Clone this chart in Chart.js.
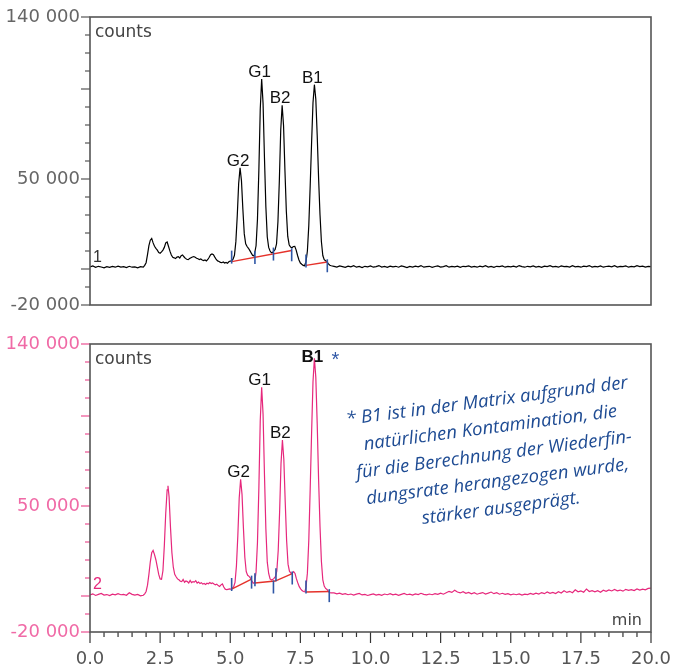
<!DOCTYPE html>
<html>
<head>
<meta charset="utf-8">
<script src="https://cdn.jsdelivr.net/npm/chart.js@4.4.1/dist/chart.umd.min.js"></script>
<style>
  body { margin: 0; background: #fff; }
  .box { position: absolute; left: 0; width: 674px; }
  #topBox { top: 0; height: 330px; }
  #bottomBox { top: 330px; height: 336px; }
</style>
</head>
<body>
<div class="box" id="topBox"><canvas id="top" width="674" height="330"></canvas></div>
<div class="box" id="bottomBox"><canvas id="bottom" width="674" height="336"></canvas></div>
<script>
const TIME_MIN = 0;
const TIME_MAX = 20;
const COUNTS_MIN = -20000;
const COUNTS_MAX = 140000;
const Y_TICK_LABELS = [-20000, 50000, 140000];
const Y_MAJOR_TICKS = [-20000, 0, 50000, 100000, 140000];

// trace 1: standard (black), [min, counts]
const TRACE_1 = [
  [0,1200],[0.1,1700],[0.2,900],[0.3,1500],[0.4,1100],[0.5,600],[0.6,1300],[0.7,900],[0.8,1400],[0.9,1000],
  [1.0,1600],[1.1,1100],[1.2,1300],[1.3,800],[1.4,1500],[1.5,1000],[1.6,1200],[1.7,700],[1.8,1300],[1.9,1000],
  [1.95,2000],[2.0,3500],[2.05,8000],[2.1,13000],[2.15,16000],[2.2,17000],[2.25,14500],[2.3,12600],[2.35,11500],
  [2.4,10500],[2.45,9200],[2.5,8800],[2.55,9500],[2.6,10500],[2.65,12000],[2.7,14500],[2.75,15000],[2.8,12500],
  [2.85,9900],[2.9,7800],[2.95,6500],[3.0,6200],[3.05,5800],[3.1,6600],[3.15,6900],[3.2,6100],[3.25,7400],
  [3.3,7800],[3.35,6800],[3.4,5900],[3.45,5400],[3.5,5200],[3.55,5800],[3.6,6300],[3.65,6700],[3.7,6900],
  [3.75,6500],[3.8,6000],[3.85,5700],[3.9,5200],[3.95,5600],[4.0,5000],[4.05,4700],[4.1,5000],[4.15,4500],
  [4.2,5300],[4.25,6500],[4.3,7900],[4.35,8400],[4.4,8000],[4.45,6600],[4.5,5300],[4.55,4500],[4.6,4200],
  [4.65,3700],[4.7,3500],[4.75,3900],[4.8,3300],[4.85,3600],[4.9,3200],[4.95,4000],[5.0,4400],[5.05,4600],
  [5.1,5500],[5.15,7600],[5.2,15200],[5.25,29600],[5.3,47500],[5.35,56200],[5.4,49000],[5.45,33200],[5.5,19500],
  [5.55,14000],[5.6,12500],[5.65,11500],[5.7,10200],[5.75,8800],[5.8,7500],[5.85,7200],
  [5.92,12900],[5.97,27500],[6.02,54800],[6.07,89000],[6.12,105600],[6.17,91900],[6.22,61700],[6.27,34400],
  [6.32,17800],[6.37,12000],[6.42,10000],[6.47,9000],[6.52,9300],
  [6.55,10000],[6.6,10800],[6.65,14000],[6.7,26200],[6.75,48900],[6.8,77200],[6.85,91000],[6.9,79700],
  [6.95,54600],[7.0,31900],[7.05,18100],[7.1,13500],[7.15,12200],[7.2,11800],[7.25,12500],[7.3,12600],
  [7.35,10500],[7.4,7500],[7.45,5000],[7.5,3300],[7.55,2600],[7.6,2000],[7.65,1800],
  [7.7,4000],[7.75,10000],[7.8,24100],[7.85,46200],[7.9,70300],[7.95,92400],[8.0,102400],[8.05,94400],
  [8.1,74300],[8.15,50200],[8.2,30100],[8.25,15100],[8.3,7500],[8.35,5200],[8.4,4600],[8.45,3900],
  [8.5,2800],[8.55,2100],[8.6,1800],
  [8.7,1500],[8.8,1100],[8.9,1700],[9.0,1300],[9.1,900],[9.2,1600],[9.3,1200],[9.4,1800],[9.5,1000],[9.6,1400],
  [9.7,800],[9.8,1500],[9.9,1200],[10.0,1700],[10.1,1000],[10.2,1300],[10.3,1900],[10.4,1100],[10.5,1400],
  [10.6,900],[10.7,1600],[10.8,1200],[10.9,1500],[11.0,1000],[11.1,1700],[11.2,1300],[11.3,800],[11.4,1400],
  [11.5,1100],[11.6,1600],[11.7,1200],[11.8,1900],[11.9,1000],[12.0,1300],[12.1,1500],[12.2,900],[12.3,1400],
  [12.4,1700],[12.5,1100],[12.6,1300],[12.7,1800],[12.8,1000],[12.9,1400],[13.0,1200],[13.1,1600],[13.2,900],
  [13.3,1500],[13.4,1300],[13.5,1700],[13.6,1100],[13.7,1400],[13.8,1000],[13.9,1600],[14.0,1200],[14.1,1800],
  [14.2,1100],[14.3,1400],[14.4,900],[14.5,1500],[14.6,1300],[14.7,1700],[14.8,1000],[14.9,1400],[15.0,1200],
  [15.1,1600],[15.2,1100],[15.3,1900],[15.4,1300],[15.5,1000],[15.6,1500],[15.7,1200],[15.8,1700],[15.9,1100],
  [16.0,1400],[16.1,900],[16.2,1600],[16.3,1300],[16.4,1800],[16.5,1200],[16.6,1400],[16.7,1000],[16.8,1700],
  [16.9,1300],[17.0,1500],[17.1,1100],[17.2,1800],[17.3,1200],[17.4,1400],[17.5,1000],[17.6,1600],[17.7,1300],
  [17.8,1900],[17.9,1100],[18.0,1500],[18.1,1200],[18.2,1700],[18.3,1000],[18.4,1400],[18.5,1600],[18.6,1200],
  [18.7,1800],[18.8,1100],[18.9,1500],[19.0,1300],[19.1,1700],[19.2,1000],[19.3,1400],[19.4,1200],[19.5,1800],
  [19.6,1300],[19.7,1600],[19.8,1100],[19.9,1500],[20.0,1300]
];

// trace 2: matrix (pink), [min, counts]
const TRACE_2 = [
  [0,600],[0.1,1200],[0.2,300],[0.3,900],[0.4,1400],[0.5,500],[0.6,800],[0.7,200],[0.8,1000],[0.9,600],
  [1.0,1300],[1.1,700],[1.2,900],[1.3,400],[1.4,1800],[1.5,900],[1.6,500],[1.7,900],[1.8,100],[1.9,400],
  [1.95,1200],[2.0,2500],[2.05,6000],[2.1,12000],[2.15,19000],[2.2,24000],[2.25,25300],[2.3,23000],[2.35,20000],
  [2.4,16000],[2.45,12000],[2.5,9500],[2.55,9300],[2.6,14000],[2.65,28000],[2.7,46000],[2.75,59000],[2.78,61200],
  [2.82,55000],[2.87,38000],[2.92,24000],[2.97,16000],[3.02,12000],[3.07,10700],[3.12,9500],[3.17,9000],
  [3.22,8200],[3.27,8000],[3.32,9200],[3.37,7600],[3.42,8300],[3.47,8000],[3.52,7200],[3.57,8600],[3.62,7400],
  [3.67,8000],[3.72,7700],[3.77,8500],[3.82,7200],[3.87,7800],[3.92,6900],[3.97,7400],[4.02,6600],[4.07,7000],
  [4.12,6400],[4.17,7100],[4.22,6800],[4.27,7500],[4.32,6900],[4.37,7300],[4.42,6700],[4.47,6200],[4.52,6600],
  [4.57,5800],[4.62,5300],[4.67,6200],[4.72,6700],[4.77,5000],[4.82,3800],[4.87,3500],[4.92,3700],[4.97,3900],
  [5.02,3800],
  [5.07,4300],[5.12,5100],[5.17,7500],[5.22,16600],[5.27,33500],[5.32,54600],[5.37,64900],[5.42,56400],
  [5.47,37700],[5.52,21500],[5.57,13500],[5.62,11500],[5.67,10900],[5.72,10000],[5.77,8500],[5.82,7100],[5.87,7400],
  [5.92,13400],[5.97,29600],[6.02,59800],[6.07,97600],[6.12,116000],[6.17,100900],[6.22,67400],[6.27,37200],
  [6.32,18800],[6.37,12500],[6.42,9500],[6.47,8900],[6.52,9300],
  [6.56,9800],[6.61,10800],[6.66,13800],[6.71,25300],[6.76,46800],[6.81,73700],[6.86,86700],[6.91,76000],
  [6.96,52200],[7.01,30700],[7.06,17700],[7.11,13800],[7.16,12700],[7.21,12800],[7.26,13500],[7.31,12500],
  [7.36,9500],[7.41,7200],[7.46,5200],[7.51,4000],[7.56,3000],[7.61,2500],[7.66,2300],
  [7.7,4900],[7.75,12700],[7.8,30800],[7.85,59400],[7.9,90500],[7.95,119000],[8.0,132000],[8.05,121600],
  [8.1,95700],[8.15,64600],[8.2,38600],[8.25,19200],[8.3,9000],[8.35,5500],[8.4,4200],[8.45,3600],
  [8.5,2500],[8.55,1800],[8.6,1700],
  [8.7,1700],[8.8,1200],[8.9,1600],[9.0,900],[9.1,1300],[9.2,700],[9.3,1100],[9.4,500],[9.5,1000],[9.6,1400],
  [9.7,600],[9.8,900],[9.9,300],[10.0,800],[10.1,1200],[10.2,500],[10.3,900],[10.4,400],[10.5,1100],[10.6,700],
  [10.7,1300],[10.8,600],[10.9,1000],[11.0,400],[11.1,900],[11.2,1400],[11.3,700],[11.4,1000],[11.5,500],
  [11.6,1200],[11.7,800],[11.8,1500],[11.9,900],[12.0,600],[12.1,1100],[12.2,700],[12.3,1300],[12.4,900],
  [12.5,1600],[12.6,1000],[12.7,1800],[12.8,2600],[12.9,2000],[13.0,3200],[13.1,2200],[13.2,1700],[13.3,2400],
  [13.4,1500],[13.5,2000],[13.6,1200],[13.7,1800],[13.8,1000],[13.9,1500],[14.0,1900],[14.1,1100],[14.2,1600],
  [14.3,2200],[14.4,1300],[14.5,1800],[14.6,1000],[14.7,1500],[14.8,900],[14.9,1300],[15.0,600],[15.1,1100],
  [15.2,700],[15.3,1200],[15.4,500],[15.5,1000],[15.6,800],[15.7,1400],[15.8,900],[15.9,1600],[16.0,1100],
  [16.1,1900],[16.2,1300],[16.3,2200],[16.4,1500],[16.5,2000],[16.6,1400],[16.7,2400],[16.8,1700],[16.9,2900],
  [17.0,2000],[17.1,2600],[17.2,1800],[17.3,3400],[17.4,2300],[17.5,2800],[17.6,2100],[17.7,3900],[17.8,2500],
  [17.9,3000],[18.0,2300],[18.1,2900],[18.2,2100],[18.3,3200],[18.4,2600],[18.5,3400],[18.6,2800],[18.7,3600],
  [18.8,2900],[18.9,3300],[19.0,2700],[19.1,3700],[19.2,3100],[19.3,3500],[19.4,3000],[19.5,3900],[19.6,3300],
  [19.7,3800],[19.8,3400],[19.9,4200],[20.0,4400]
];

// peak labels: [name, min, counts]
const PEAKS_1 = [['G2', 5.35, 56200], ['G1', 6.12, 105600], ['B2', 6.85, 91000], ['B1', 8.0, 102400]];
const PEAKS_2 = [['G2', 5.37, 64900], ['G1', 6.12, 116000], ['B2', 6.86, 86700], ['B1', 8.0, 132000]];

// integration baselines (red) and peak start/end marks (blue)
const BASELINES_1 = [[[5.05, 4100], [7.19, 10300]], [[7.70, 2000], [8.46, 3900]]];
const BASELINES_2 = [[[5.05, 3800], [5.76, 9400]], [[5.88, 7200], [6.6, 8300], [7.21, 12400]], [[7.70, 2200], [8.53, 2500]]];
const MARKS_1 = [[5.05, 6600], [5.88, 6400], [6.54, 8300], [7.19, 7900], [7.70, 4400], [8.46, 1800]];
const MARKS_2 = [[5.05, 6400], [5.76, 7700], [5.88, 9000], [6.54, 5000], [6.63, 11800], [7.21, 10000], [7.70, 5000], [8.53, 200]];

const NOTE_LINES = [
  '* B1 ist in der Matrix aufgrund der',
  'natürlichen Kontamination, die',
  'für die Berechnung der Wiederfin-',
  'dungsrate herangezogen wurde,',
  'stärker ausgeprägt.'
];

const FRAME_COLOR = '#555';
const RED = '#e5322b';
const BLUE = '#2f57a6';
const PINK = '#e6287c';
const TICK_FONT = { family: '"DejaVu Sans"', size: 18 };

function formatCounts(v) {
  return String(v).replace(/\B(?=(\d{3})+(?!\d))/g, ' ');
}

function isMajorX(v) {
  return Math.abs(v / 2.5 - Math.round(v / 2.5)) < 1e-6;
}

function toPoints(pairs) {
  return pairs.map(([x, y]) => ({ x, y }));
}

// keep the chart area exactly where the layout padding puts it
function noScalePadding(s) {
  s.paddingTop = 0;
  s.paddingBottom = 0;
  s.paddingLeft = 0;
  s.paddingRight = 0;
}

function getDatasets(trace, color, baselines, marks) {
  const sets = [{
    data: toPoints(marks),
    showLine: false,
    pointStyle: 'line',
    rotation: 90,
    pointRadius: 6.5,
    pointBorderColor: BLUE,
    pointBorderWidth: 1.6
  }];
  baselines.forEach(seg => sets.push({
    data: toPoints(seg),
    borderColor: RED,
    borderWidth: 1.4,
    pointRadius: 0
  }));
  sets.push({
    data: toPoints(trace),
    borderColor: color,
    borderWidth: 1.2,
    pointRadius: 0
  });
  return sets;
}

function getFrameTicksPlugin(yTickColor, withX) {
  return {
    id: 'frameTicks',
    afterDraw(chart) {
      const { ctx, chartArea: a, scales: { x, y } } = chart;
      ctx.save();
      ctx.lineWidth = 1.2;
      ctx.strokeStyle = yTickColor;
      y.ticks.forEach(t => {
        const py = y.getPixelForValue(t.value);
        const len = Y_MAJOR_TICKS.includes(t.value) ? 9 : 5;
        ctx.beginPath();
        ctx.moveTo(a.left - len, py);
        ctx.lineTo(a.left, py);
        ctx.stroke();
      });
      if (withX) {
        ctx.strokeStyle = '#333';
        x.ticks.forEach(t => {
          const px = x.getPixelForValue(t.value);
          const len = isMajorX(t.value) ? 11 : 5;
          ctx.beginPath();
          ctx.moveTo(px, a.bottom);
          ctx.lineTo(px, a.bottom + len);
          ctx.stroke();
        });
      }
      ctx.strokeStyle = FRAME_COLOR;
      ctx.lineWidth = 1.6;
      ctx.strokeRect(a.left, a.top, a.right - a.left, a.bottom - a.top);
      ctx.restore();
    }
  };
}

function getTextPlugin(cfg) {
  return {
    id: 'chromText',
    afterDraw(chart) {
      const { ctx, chartArea: a, scales: { x, y } } = chart;
      ctx.save();
      ctx.fillStyle = '#444';
      ctx.font = '17px "DejaVu Sans"';
      ctx.textAlign = 'left';
      ctx.fillText('counts', a.left + 5, a.top + 20);

      ctx.fillStyle = cfg.numberColor;
      ctx.font = '16px "Liberation Sans"';
      ctx.fillText(cfg.number, a.left + 3, y.getPixelForValue(0) - 7);

      ctx.textAlign = 'center';
      cfg.peaks.forEach(([name, t, c]) => {
        const px = x.getPixelForValue(t) - 2;
        const base = Math.max(y.getPixelForValue(c) - 2, a.top + 18);
        ctx.fillStyle = '#111';
        ctx.font = (cfg.star && name === 'B1' ? 'bold ' : '') + '17px "Liberation Sans"';
        ctx.fillText(name, px, base);
        if (cfg.star && name === 'B1') {
          ctx.fillStyle = BLUE;
          ctx.font = '20px "Liberation Sans"';
          ctx.fillText('*', px + 23, base + 4);
        }
      });

      if (cfg.withX) {
        ctx.fillStyle = '#444';
        ctx.font = '16px "DejaVu Sans"';
        ctx.textAlign = 'right';
        ctx.fillText('min', a.right - 9, a.bottom - 7);
      }

      if (cfg.note) {
        ctx.translate(a.left + 404, a.top + 111);
        ctx.rotate(-7.5 * Math.PI / 180);
        ctx.font = 'italic 18px "Open Sans"';
        const sx = 284 / ctx.measureText(NOTE_LINES[0]).width;
        ctx.scale(sx, 1);
        ctx.fillStyle = '#1e4b93';
        ctx.textAlign = 'center';
        ctx.textBaseline = 'middle';
        NOTE_LINES.forEach((line, i) => ctx.fillText(line, 0, (i - 2) * 27));
      }
      ctx.restore();
    }
  };
}

function getChartConfig(cfg) {
  return {
    type: 'line',
    data: { datasets: getDatasets(cfg.trace, cfg.color, cfg.baselines, cfg.marks) },
    options: {
      responsive: false,
      animation: false,
      layout: { padding: cfg.padding },
      plugins: { legend: { display: false }, tooltip: { enabled: false } },
      elements: { line: { tension: 0 } },
      scales: {
        x: {
          type: 'linear',
          min: TIME_MIN,
          max: TIME_MAX,
          display: cfg.withX,
          ticks: {
            stepSize: 0.5,
            autoSkip: false,
            maxRotation: 0,
            padding: 17,
            color: '#555',
            font: TICK_FONT,
            callback: v => isMajorX(v) ? v.toFixed(1) : ''
          },
          grid: { display: false, drawTicks: false },
          border: { display: false },
          afterFit: s => {
            if (cfg.withX) s.height = 34;
            noScalePadding(s);
          }
        },
        y: {
          min: COUNTS_MIN,
          max: COUNTS_MAX,
          ticks: {
            stepSize: 10000,
            autoSkip: false,
            padding: 10,
            color: cfg.yLabelColor,
            font: TICK_FONT,
            callback: v => Y_TICK_LABELS.includes(v) ? formatCounts(v) : ''
          },
          grid: { display: false, drawTicks: false },
          border: { display: false },
          afterFit: s => {
            s.width = 90;
            noScalePadding(s);
          }
        }
      }
    },
    plugins: [getFrameTicksPlugin(cfg.yTickColor, cfg.withX), getTextPlugin(cfg)]
  };
}

new Chart(document.getElementById('top'), getChartConfig({
  trace: TRACE_1, color: '#000', baselines: BASELINES_1, marks: MARKS_1, peaks: PEAKS_1,
  number: '1', numberColor: '#333', yLabelColor: '#666', yTickColor: '#555',
  withX: false, star: false, note: false,
  padding: { top: 17, right: 23, bottom: 25, left: 0 }
}));

new Chart(document.getElementById('bottom'), getChartConfig({
  trace: TRACE_2, color: PINK, baselines: BASELINES_2, marks: MARKS_2, peaks: PEAKS_2,
  number: '2', numberColor: PINK, yLabelColor: '#f06aa6', yTickColor: '#ec4f92',
  withX: true, star: true, note: true,
  padding: { top: 14, right: 23, bottom: 0, left: 0 }
}));
</script>
</body>
</html>
